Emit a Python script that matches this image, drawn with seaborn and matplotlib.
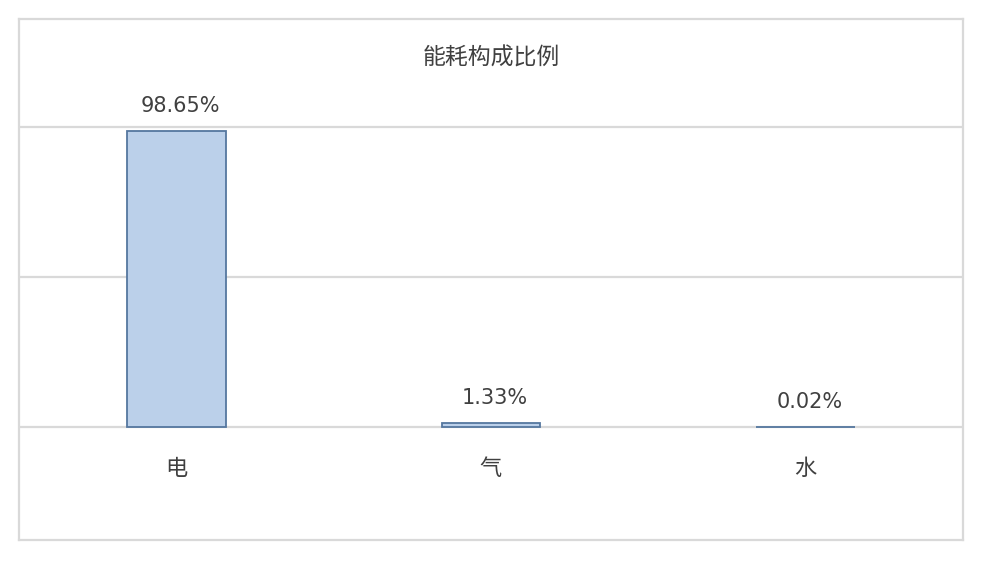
import matplotlib
matplotlib.use("Agg")
import matplotlib.pyplot as plt
import seaborn as sns
import pandas as pd

# energy consumption share
categories = ["电", "气", "水"]
shares = [98.65, 1.33, 0.02]
share_labels = ["98.65%", "1.33%", "0.02%"]
title = "能耗构成比例"

sns.set_theme(style="white")
plt.rcParams["font.family"] = ["Noto Sans CJK SC", "DejaVu Sans"]

df = pd.DataFrame({"cat": categories, "share": shares})

fig = plt.figure(figsize=(9.97, 5.61), dpi=100)
# axes spans the whole outer frame box
ax = fig.add_axes([19 / 997, 1 - 540 / 561, (963 - 19) / 997, (540 - 19) / 561])

sns.barplot(data=df, x="cat", y="share", ax=ax, width=0.314,
            color="#BBD0EA", edgecolor="#55779F", linewidth=1.3, saturation=1)

ax.set_xlim(-0.5, 2.5)
ax.set_ylim(-37.7, 136)

for v in [0, 50, 100]:
    ax.axhline(v, color="#D9D9D9", linewidth=1.6, zorder=0)

for sp in ax.spines.values():
    sp.set_color("#D9D9D9")
    sp.set_linewidth(1.6)

ax.set_xticks([])
ax.set_yticks([])
ax.set_xlabel("")
ax.set_ylabel("")

for i, (v, lab) in enumerate(zip(shares, share_labels)):
    ax.annotate(lab, (i, v), xytext=(3, 11), textcoords="offset points",
                ha="center", va="bottom", fontsize=15, color="#404040",
                family=["DejaVu Sans"])
    ax.text(i, -14, categories[i], ha="center", va="center", fontsize=16, color="#404040")

ax.text(0.5, 0.925, title, transform=ax.transAxes, ha="center", va="center",
        fontsize=16.5, color="#404040")

fig.savefig("out.png", dpi=100, facecolor="white")
